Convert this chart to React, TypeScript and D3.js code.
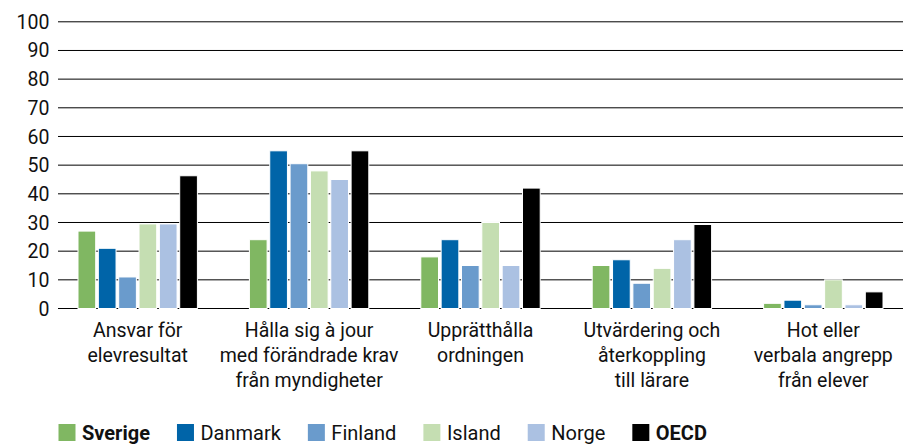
import React, { useRef, useEffect } from "react";
import * as d3 from "d3";

const categories = [
  "Ansvar för\nelevresultat",
  "Hålla sig à jour\nmed förändrade krav\nfrån myndigheter",
  "Upprätthålla\nordningen",
  "Utvärdering och\nåterkoppling\ntill lärare",
  "Hot eller\nverbala angrepp\nfrån elever",
];
const seriesNames = ["Sverige", "Danmark", "Finland", "Island", "Norge", "OECD"];
const sverige = [27, 24, 18, 15, 1.8];
const danmark = [21, 55, 24, 17, 2.9];
const finland = [11, 50.5, 15, 8.8, 1.3];
const island = [29.5, 48, 30, 14, 10];
const norge = [29.5, 45, 15, 24, 1.3];
const oecd = [46.3, 55, 42, 29.3, 5.8];
const yTicks = [0, 10, 20, 30, 40, 50, 60, 70, 80, 90, 100];
const colors = ["#80b762", "#0064a8", "#6a9bcc", "#c5deb2", "#abc1e2", "#000000"];
const boldSeries = ["Sverige", "OECD"];

const FONT = "Roboto, 'Noto Sans', sans-serif";

export default function App() {
  const ref = useRef<SVGSVGElement>(null);

  useEffect(() => {
    const width = 903, height = 444;
    const values = [sverige, danmark, finland, island, norge, oecd];
    const svg = d3.select(ref.current).attr("width", width).attr("height", height);
    svg.selectAll("*").remove();

    const y = d3.scaleLinear().domain([0, 100]).range([308.5, 21.8]);
    const x0 = d3.scaleBand().domain(categories).range([52, 909]);
    const x1 = d3
      .scaleBand()
      .domain(seriesNames)
      .range([26, x0.bandwidth() - 26])
      .paddingInner(0.13)
      .paddingOuter(0);
    const color = d3.scaleOrdinal<string, string>().domain(seriesNames).range(colors);

    // gridlines
    svg.append("g")
      .selectAll("line")
      .data(yTicks)
      .join("line")
      .attr("x1", 58)
      .attr("x2", width)
      .attr("y1", d => y(d))
      .attr("y2", d => y(d))
      .attr("stroke", "#000")
      .attr("stroke-width", 1);

    // y tick labels
    svg.append("g")
      .selectAll("text")
      .data(yTicks)
      .join("text")
      .attr("x", 49.5)
      .attr("y", d => y(d))
      .attr("dy", "0.36em")
      .attr("text-anchor", "end")
      .style("font-family", FONT)
      .style("font-size", "19.5px")
      .attr("fill", "#111")
      .text(d => d);

    // bars
    const groups = svg.append("g")
      .selectAll("g")
      .data(categories)
      .join("g")
      .attr("transform", d => `translate(${x0(d)},0)`);

    groups.selectAll("rect")
      .data((_, i) => seriesNames.map((s, j) => ({ s, v: values[j][i] })))
      .join("rect")
      .attr("x", d => x1(d.s)!)
      .attr("width", x1.bandwidth())
      .attr("y", d => y(d.v))
      .attr("height", d => y(0) - y(d.v))
      .attr("fill", d => color(d.s))
      .attr("stroke", "#fff")
      .attr("stroke-width", 1);

    // category labels
    const labels = svg.append("g")
      .selectAll("text")
      .data(categories)
      .join("text")
      .attr("text-anchor", "middle")
      .style("font-family", FONT)
      .style("font-size", "19.5px")
      .attr("fill", "#111");
    labels.each(function (d) {
      const cx = x0(d)! + x0.bandwidth() / 2;
      d3.select(this)
        .selectAll("tspan")
        .data(d.split("\n"))
        .join("tspan")
        .attr("x", cx)
        .attr("y", (_, i) => 336.5 + i * 25)
        .text(t => t);
    });

    // legend (nudged up so descenders stay inside the picture)
    const legend = svg.append("g");
    let lx = 58.5;
    seriesNames.forEach(s => {
      legend.append("rect")
        .attr("x", lx)
        .attr("y", 424)
        .attr("width", 17)
        .attr("height", 17)
        .attr("fill", color(s));
      const t = legend.append("text")
        .attr("x", lx + 23.5)
        .attr("y", 439.5)
        .style("font-family", FONT)
        .style("font-size", "20px")
        .style("font-weight", boldSeries.includes(s) ? "bold" : "normal")
        .attr("fill", "#111")
        .text(s);
      const w = (t.node() as SVGTextElement).getComputedTextLength();
      lx += 23.5 + w + 27;
    });
  }, []);

  return <svg ref={ref} style={{ position: "absolute", left: 0, top: 0, display: "block" }}></svg>;
}
